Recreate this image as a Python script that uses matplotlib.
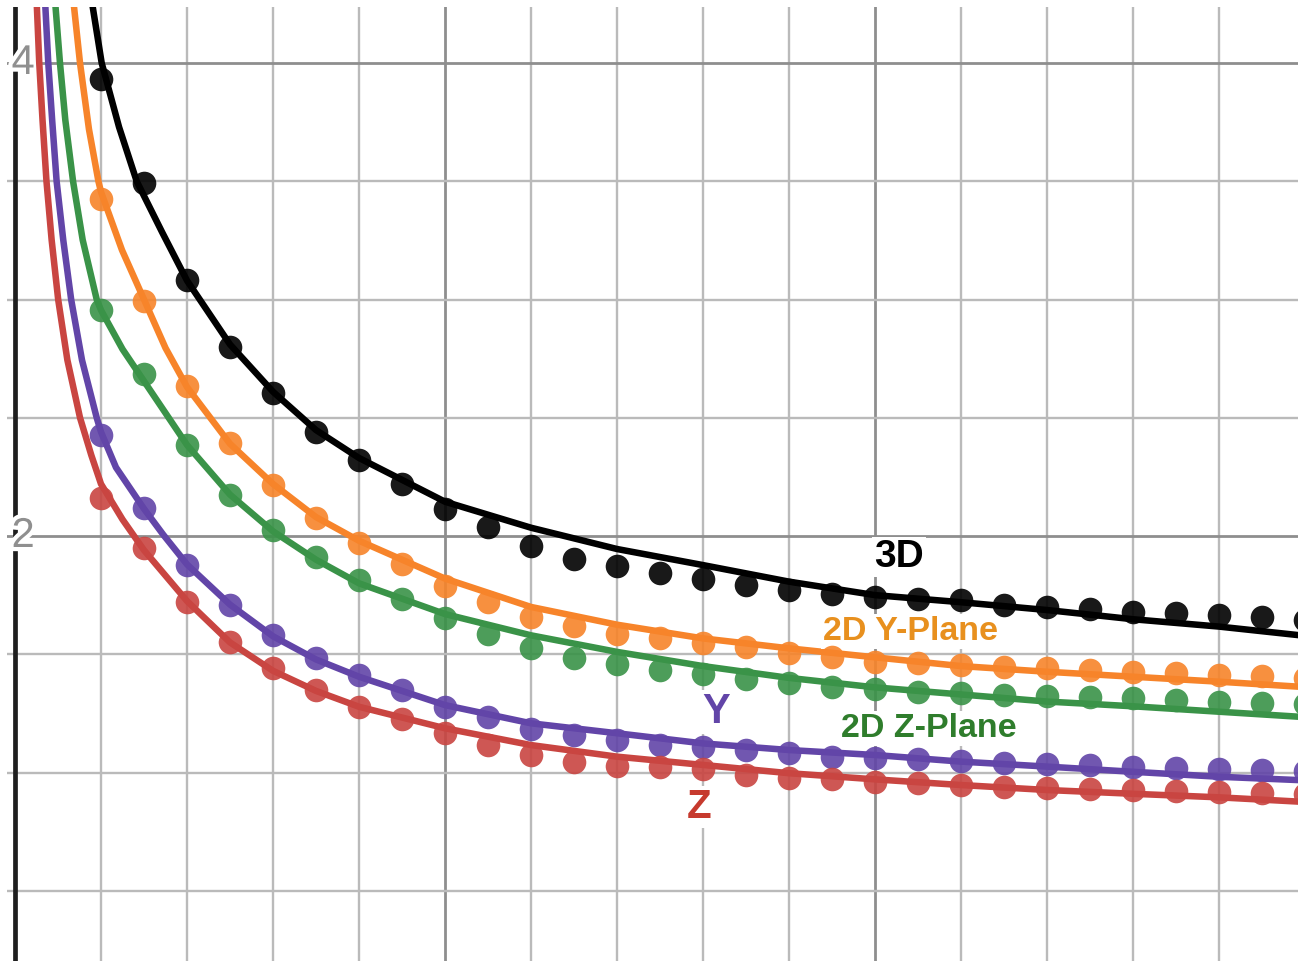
import matplotlib
matplotlib.use('Agg')
import matplotlib.pyplot as plt
import matplotlib.patheffects as pe
import numpy as np

plt.rcParams['font.family'] = ['Liberation Sans', 'DejaVu Sans']

# measured points (x = 1 .. 15, step 0.5)
x_pts = np.arange(1, 15.01, 0.5)
pts_3d = [3.932, 3.493, 3.082, 2.799, 2.605, 2.440, 2.321, 2.220, 2.114, 2.038,
          1.958, 1.903, 1.873, 1.844, 1.818, 1.793, 1.772, 1.755, 1.742, 1.734,
          1.729, 1.708, 1.700, 1.691, 1.679, 1.674, 1.666, 1.658, 1.645]
pts_2dy = [3.425, 2.994, 2.634, 2.393, 2.216, 2.076, 1.970, 1.882, 1.789, 1.721,
           1.658, 1.619, 1.586, 1.569, 1.548, 1.531, 1.506, 1.488, 1.467, 1.463,
           1.455, 1.446, 1.442, 1.433, 1.425, 1.421, 1.412, 1.408, 1.400]
pts_2dz = [2.956, 2.685, 2.385, 2.173, 2.025, 1.911, 1.814, 1.734, 1.653, 1.586,
           1.526, 1.484, 1.459, 1.433, 1.416, 1.395, 1.378, 1.362, 1.353, 1.340,
           1.336, 1.328, 1.323, 1.319, 1.315, 1.307, 1.298, 1.294, 1.290]
pts_y = [2.427, 2.118, 1.877, 1.708, 1.581, 1.484, 1.412, 1.349, 1.277, 1.235,
         1.184, 1.159, 1.137, 1.116, 1.108, 1.095, 1.082, 1.066, 1.061, 1.057,
         1.049, 1.040, 1.036, 1.032, 1.023, 1.019, 1.015, 1.011, 1.006]
pts_z = [2.161, 1.949, 1.721, 1.552, 1.442, 1.349, 1.277, 1.226, 1.167, 1.116,
         1.074, 1.044, 1.027, 1.023, 1.015, 0.989, 0.977, 0.973, 0.960, 0.956,
         0.947, 0.939, 0.934, 0.930, 0.926, 0.922, 0.918, 0.913, 0.909]

# fitted curves
fit_3d_x = [0.891, 1.008, 1.21, 1.415, 1.71, 2.0, 2.5, 3, 3.5, 4, 5, 6, 7, 8, 9, 10, 11,
            12, 13, 14, 14.92]
fit_3d_y = [4.266, 4.0, 3.729, 3.5, 3.285, 3.08, 2.81, 2.61, 2.448, 2.33, 2.145, 2.035,
            1.945, 1.877, 1.807, 1.75, 1.72, 1.687, 1.648, 1.617, 1.581]
fit_2dy_x = [0.678, 0.756, 0.86, 0.97, 1.0, 1.244, 1.5, 1.75, 2, 2.5, 3, 3.5, 4, 5, 6, 7,
             8, 9, 10, 11, 12, 13, 14, 14.92]
fit_2dy_y = [4.266, 4.0, 3.72, 3.5, 3.455, 3.209, 3.0, 2.795, 2.63, 2.39, 2.22, 2.08,
             1.98, 1.82, 1.70, 1.625, 1.567, 1.525, 1.487, 1.45, 1.426, 1.405, 1.384, 1.363]
fit_2dz_x = [0.465, 0.523, 0.585, 0.675, 0.787, 0.95, 1.0, 1.25, 1.5, 2, 2.5, 3, 3.5, 4,
             5, 6, 7, 8, 9, 10, 11, 12, 13, 14, 14.92]
fit_2dz_y = [4.266, 4.0, 3.759, 3.5, 3.252, 3.0, 2.955, 2.79, 2.655, 2.385, 2.175, 2.02,
             1.90, 1.80, 1.67, 1.58, 1.51, 1.45, 1.40, 1.36, 1.33, 1.30, 1.28, 1.257, 1.236]
fit_y_x = [0.349, 0.387, 0.432, 0.484, 0.561, 0.653, 0.779, 0.95, 1.0, 1.174, 1.5, 1.725,
           2, 2.5, 3, 3.5, 4, 5, 6, 7, 8, 9, 10, 11, 12, 13, 14, 14.92]
fit_y_y = [4.266, 4.0, 3.759, 3.5, 3.252, 3.0, 2.744, 2.5, 2.44, 2.29, 2.115, 2.005, 1.88,
           1.71, 1.576, 1.478, 1.405, 1.285, 1.208, 1.166, 1.123, 1.095, 1.074, 1.046,
           1.025, 1.003, 0.982, 0.968]
fit_z_x = [0.251, 0.282, 0.32, 0.366, 0.426, 0.502, 0.609, 0.756, 0.887, 1.0, 1.25, 1.5,
           2, 2.5, 3, 3.5, 4, 5, 6, 7, 8, 9, 10, 11, 12, 13, 14, 14.92]
fit_z_y = [4.266, 4.0, 3.759, 3.5, 3.252, 3.0, 2.744, 2.5, 2.342, 2.22, 2.07, 1.94, 1.725,
           1.55, 1.43, 1.345, 1.278, 1.187, 1.116, 1.067, 1.032, 0.997, 0.971, 0.947,
           0.926, 0.91, 0.895, 0.877]

fig = plt.figure(figsize=(12.98, 9.61), dpi=100)
ax = fig.add_axes([7 / 1298, 0, 1291 / 1298, 954 / 961])
ax.set_xlim(-8 / 86, 1283 / 86)
ax.set_ylim(2 - 425 / 236.5, 2 + 529 / 236.5)
ax.axis('off')

# grid (desmos style)
for gx in range(1, 15):
    major = gx % 5 == 0
    ax.axvline(gx, color='#8e8e8e' if major else '#bababa', lw=2.0 if major else 1.7, zorder=0)
for gy in np.arange(0.5, 4.01, 0.5):
    major = gy in (2.0, 4.0)
    ax.axhline(gy, color='#8e8e8e' if major else '#bababa', lw=2.0 if major else 1.7, zorder=0)
ax.axvline(0, color='#1e1e1e', lw=3.4, zorder=1)

for val in (4, 2):
    ax.text(0.095, val, str(val), color='#8f8f8f', fontsize=30, ha='center', va='center',
            path_effects=[pe.withStroke(linewidth=6, foreground='white')], zorder=1.5)

series = [
    (fit_3d_x, fit_3d_y, pts_3d, '#000000'),
    (fit_2dy_x, fit_2dy_y, pts_2dy, '#f7842a'),
    (fit_2dz_x, fit_2dz_y, pts_2dz, '#3a9348'),
    (fit_y_x, fit_y_y, pts_y, '#6245a8'),
    (fit_z_x, fit_z_y, pts_z, '#c94541'),
]
for fx, fy, p, c in series:
    ax.plot(fx, fy, color=c, lw=4.7, solid_joinstyle='round', zorder=2)
for fx, fy, p, c in series:
    ax.plot(x_pts, p, 'o', color=c, ms=17, mec='none', alpha=0.9, zorder=3)

lbl = dict(fontweight='bold', ha='center', va='baseline', zorder=2.5,
           bbox=dict(facecolor='white', edgecolor='none', pad=1.5))
ax.text(10.28, 1.870, '3D', color='black', fontsize=28, **lbl)
ax.text(10.41, 1.560, '2D Y-Plane', color='#e8901e', fontsize=24.5, **lbl)
ax.text(10.63, 1.149, '2D Z-Plane', color='#2f7d2c', fontsize=24.5, **lbl)
ax.text(8.15, 1.208, 'Y', color='#6245a8', fontsize=30, **lbl)
ax.text(7.95, 0.806, 'Z', color='#c63a2e', fontsize=29, **lbl)

fig.savefig('out.png', dpi=100)
